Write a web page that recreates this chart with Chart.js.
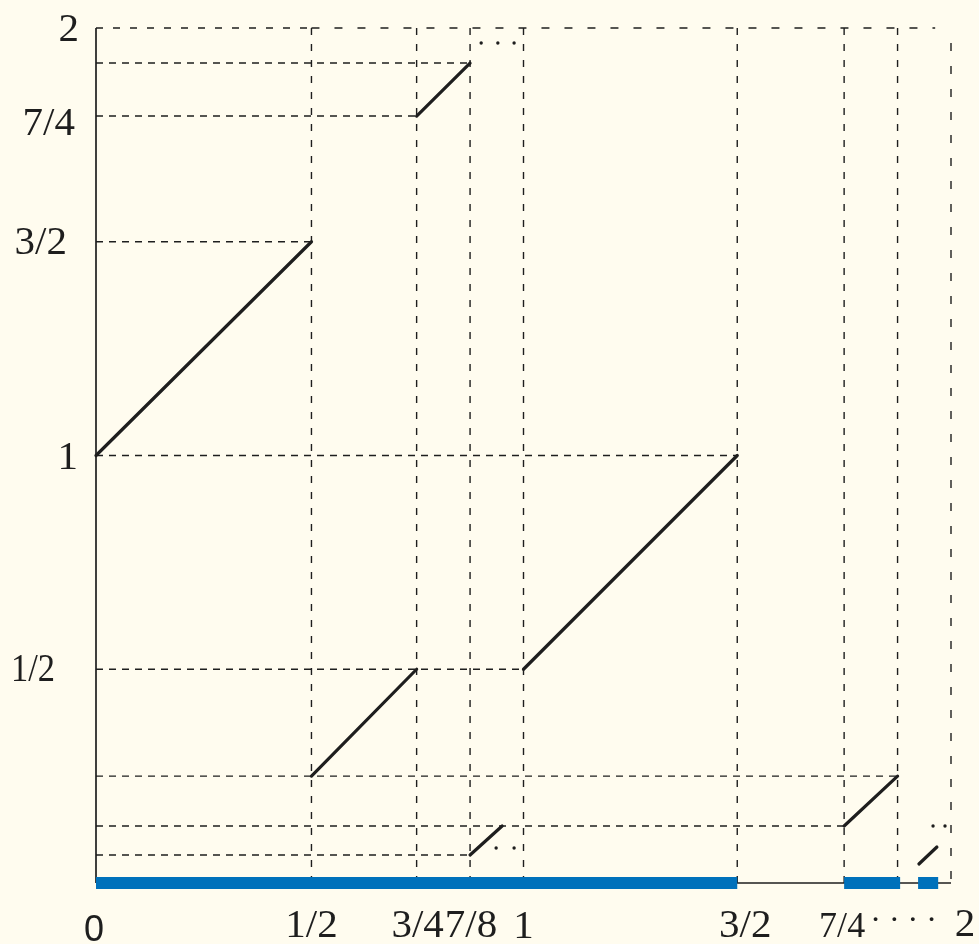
<!DOCTYPE html>
<html><head><meta charset="utf-8">
<script src="https://cdn.jsdelivr.net/npm/chart.js@4.4.1/dist/chart.umd.min.js"></script>
<style>
html,body{margin:0;padding:0;background:#FFFCEF;}
#wrap{width:979px;height:944px;position:relative;background:#FFFCEF;}
</style></head><body>
<div id="wrap"><canvas id="c"></canvas></div>
<script>
// ---------- values ----------
const xTickValues = [0, 0.504, 0.75, 0.875, 1, 1.5, 1.75, 1.875, 2];
const xTickLabels = ['0', '1/2', '3/4', '7/8', '1', '3/2', '7/4', '\u00B7 \u00B7 \u00B7 \u00B7', '2'];
const yTickValues = [2, 1.794, 1.5, 1, 0.5];
const yTickLabels = ['2', '7/4', '3/2', '1', '1/2'];

// pieces of the graph: [x0, y0, x1, y1]
const graphSegments = [
  [0, 1, 0.504, 1.5],
  [0.504, 0.25, 0.75, 0.5],
  [0.75, 1.794, 0.875, 1.918],
  [0.875, 0.0655, 0.95, 0.1333],
  [1, 0.5, 1.5, 1],
  [1.75, 0.1333, 1.875, 0.25],
  [1.925, 0.0444, 1.967, 0.0842]
];
// continuation dots
const dotX = [0.901, 0.94, 0.978, 0.936, 0.978, 1.958, 1.986];
const dotY = [1.965, 1.965, 1.965, 0.0819, 0.0819, 0.1333, 0.1333];
// horizontal guides: level and right end
const hGuideY   = [1.918, 1.794, 1.5, 1, 0.5, 0.25, 0.1333, 0.0655];
const hGuideEnd = [0.875, 0.75, 0.504, 1.5, 1, 1.875, 1.75, 0.875];
// vertical guides (from 0 up to 2)
const vGuideX = [0.504, 0.75, 0.875, 1, 1.5, 1.75, 1.875];
// top frame edge pieces [x0, x1] at y = 2
const topEdge = [[0, 0.504], [0.504, 1.963]];
// right frame edge: x = 2 up to this level
const rightEdgeTop = 1.965;
// blue bands on the x axis: [start, end]
const blueBands = [[0, 1.5], [1.75, 1.881], [1.923, 1.97]];

// ---------- build datasets ----------
const INK = '#1e1e1e';
const layers = []; // bottom-to-top
function line(points, style) {
  layers.push(Object.assign({
    data: points, showLine: true, pointRadius: 0, fill: false, clip: false,
    borderCapStyle: 'butt', borderColor: INK, backgroundColor: INK
  }, style));
}
const dashH = { borderWidth: 1.4, borderDash: [7, 6] };
const dashV = { borderWidth: 1.4, borderDash: [7, 9] };
const dashWide = { borderWidth: 1.4, borderDash: [8, 15] };

hGuideY.forEach((y, i) => line([{x: 0, y}, {x: hGuideEnd[i], y}], dashH));
vGuideX.forEach(x => line([{x, y: 2}, {x, y: 0}], dashV));
line([{x: topEdge[0][0], y: 2}, {x: topEdge[0][1], y: 2}], {borderWidth: 1.4, borderDash: [7, 10]});
line([{x: topEdge[1][0], y: 2}, {x: topEdge[1][1], y: 2}], dashWide);
line([{x: 2, y: rightEdgeTop}, {x: 2, y: 0}], dashWide);
// axes
line([{x: 0, y: 0}, {x: 0, y: 2}], {borderWidth: 1.7});
line([{x: 0, y: 0}, {x: 2, y: 0}], {borderWidth: 1.5});
// blue bands
blueBands.forEach(b => line([{x: b[0], y: 0}, {x: b[1], y: 0}], {borderWidth: 12, borderColor: '#0071BB'}));
// graph
graphSegments.forEach(s => line([{x: s[0], y: s[1]}, {x: s[2], y: s[3]}], {borderWidth: 3.2, borderCapStyle: 'round'}));
// dots
layers.push({data: dotX.map((x, i) => ({x, y: dotY[i]})), showLine: false, pointRadius: 1.7,
  pointBorderWidth: 0, pointBackgroundColor: INK, clip: false});

const datasets = layers.slice().reverse();

// ---------- label plugin (uses chart scales) ----------
const labelPlugin = {
  id: 'fracLabels',
  afterDatasetsDraw(chart, args, opts) {
    const {ctx} = chart;
    const xs = chart.scales.x, ys = chart.scales.y;
    ctx.save();
    ctx.fillStyle = INK;
    ctx.textBaseline = 'alphabetic';
    ctx.textAlign = 'center';
    xTickValues.forEach((v, i) => {
      ctx.font = opts.xFonts[i];
      const px = xs.getPixelForValue(v) + opts.xNudge[i];
      const py = ys.getPixelForValue(0) + opts.xBaseline[i];
      if (opts.xMaxW[i]) ctx.fillText(xTickLabels[i], px, py, opts.xMaxW[i]);
      else ctx.fillText(xTickLabels[i], px, py);
    });
    ctx.textAlign = 'right';
    yTickValues.forEach((v, i) => {
      ctx.font = opts.yFont;
      const px = xs.getPixelForValue(0) + opts.yNudgeX[i];
      const py = ys.getPixelForValue(v) + opts.yNudgeY[i];
      if (opts.yMaxW[i]) ctx.fillText(yTickLabels[i], px, py, opts.yMaxW[i]);
      else ctx.fillText(yTickLabels[i], px, py);
    });
    ctx.restore();
  }
};

const SERIF = '41px "Liberation Serif", "Times New Roman", serif';
new Chart(document.getElementById('c'), {
  type: 'scatter',
  data: {datasets},
  options: {
    responsive: true, maintainAspectRatio: false, animation: false,
    layout: {padding: {left: 96, right: 28, top: 28, bottom: 61}},
    scales: {
      x: {type: 'linear', min: 0, max: 2, display: false},
      y: {type: 'linear', min: 0, max: 2, display: false}
    },
    plugins: {
      legend: {display: false}, tooltip: {enabled: false},
      fracLabels: {
        xFonts: ['36px "Liberation Sans", Arial, sans-serif', SERIF, SERIF, SERIF, SERIF, SERIF,
                 '36px "Liberation Serif", serif', '32px "Liberation Serif", serif', SERIF],
        xNudge: [-2, 0, 1, 1, 0, 8, -2, 6, 14],
        xBaseline: [58, 54, 54, 54, 55, 54, 54, 47, 53],
        xMaxW: [0, 0, 0, 0, 0, 0, 0, 0, 0],
        yFont: SERIF,
        yNudgeX: [-17, -21, -29, -18, -41],
        yNudgeY: [13, 19, 12, 13, 12],
        yMaxW: [0, 0, 0, 0, 44]
      }
    }
  },
  plugins: [labelPlugin]
});
</script>
</body></html>
